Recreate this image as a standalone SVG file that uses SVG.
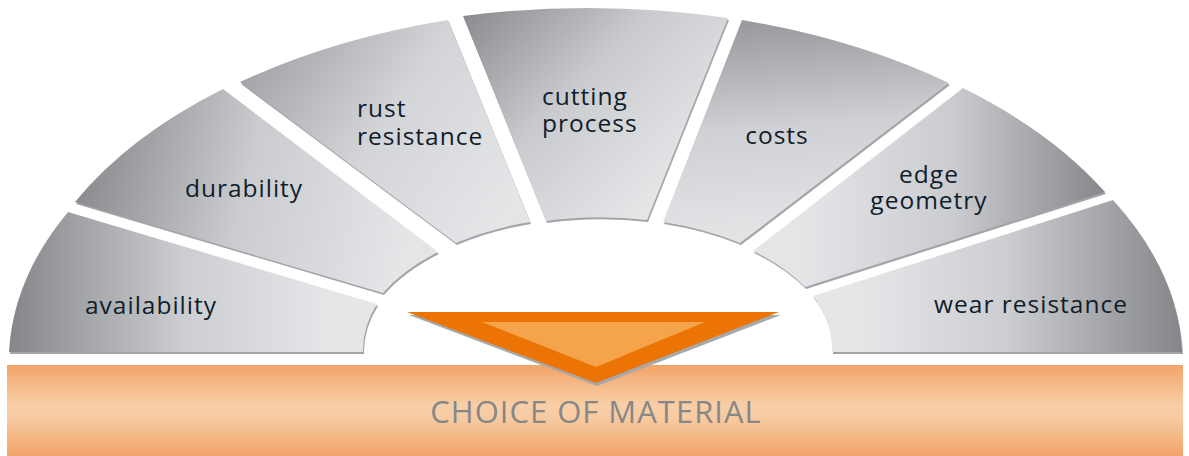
<svg xmlns="http://www.w3.org/2000/svg" width="1189" height="456" viewBox="0 0 1189 456">
<defs>
<style>
.lbl{font-family:"Open Sans","Liberation Sans",sans-serif;font-size:24.5px;letter-spacing:1px;fill:#0f1d2b}
.shadow{fill:#a3a4a8}
.title{font-family:"Open Sans","Liberation Sans",sans-serif;font-size:31px;letter-spacing:1px;fill:#878787}
</style>
<linearGradient id="g1" gradientUnits="userSpaceOnUse" x1="9" y1="0" x2="330" y2="0"><stop offset="0" stop-color="#85868a"/><stop offset="0.55" stop-color="#cdced1"/><stop offset="1" stop-color="#e5e6e8"/></linearGradient>
<linearGradient id="g2" gradientUnits="userSpaceOnUse" x1="75" y1="180" x2="400" y2="260"><stop offset="0" stop-color="#88898d"/><stop offset="0.5" stop-color="#cbccd0"/><stop offset="1" stop-color="#e4e5e7"/></linearGradient>
<linearGradient id="g3" gradientUnits="userSpaceOnUse" x1="250" y1="60" x2="490" y2="230"><stop offset="0" stop-color="#a2a3a7"/><stop offset="0.5" stop-color="#d4d5d8"/><stop offset="1" stop-color="#e4e5e7"/></linearGradient>
<linearGradient id="g4" gradientUnits="userSpaceOnUse" x1="463" y1="16" x2="650" y2="200"><stop offset="0" stop-color="#8b8c90"/><stop offset="0.5" stop-color="#cacbce"/><stop offset="1" stop-color="#e4e5e7"/></linearGradient>
<linearGradient id="g5" gradientUnits="userSpaceOnUse" x1="745" y1="25" x2="760" y2="230"><stop offset="0" stop-color="#9a9b9f"/><stop offset="0.5" stop-color="#cfd0d3"/><stop offset="1" stop-color="#e2e3e5"/></linearGradient>
<linearGradient id="g6" gradientUnits="userSpaceOnUse" x1="1105" y1="0" x2="800" y2="0"><stop offset="0" stop-color="#86878b"/><stop offset="0.5" stop-color="#cbccd0"/><stop offset="1" stop-color="#e4e5e7"/></linearGradient>
<linearGradient id="g7" gradientUnits="userSpaceOnUse" x1="1182" y1="0" x2="860" y2="0"><stop offset="0" stop-color="#85868a"/><stop offset="0.55" stop-color="#cdced1"/><stop offset="1" stop-color="#e5e6e8"/></linearGradient>
<linearGradient id="bar" x1="0" y1="0" x2="0" y2="1"><stop offset="0" stop-color="#f2a468"/><stop offset="0.45" stop-color="#f8cfa8"/><stop offset="0.6" stop-color="#f7c9a0"/><stop offset="1" stop-color="#f2a468"/></linearGradient>
</defs>
<rect width="1189" height="456" fill="#ffffff"/>

<g id="bar-choice">
<rect x="7" y="365" width="1176" height="91" fill="url(#bar)"/>
<text class="title" x="596" y="423" text-anchor="middle">CHOICE OF MATERIAL</text>
</g>

<g id="arrow">
<polygon points="409,315 781,315 597,386" fill="#a7a8aa"/>
<polygon points="407,312 779,312 596,383" fill="#ec7405"/>
<polygon points="482,322 705,322 596,367" fill="#f6a44b"/>
</g>

<g id="seg-availability">
<path class="shadow" transform="translate(1,2)" d="M 68 212 A 586 344 0 0 0 9 352 L 363 352 A 234 134 0 0 1 377 304 Z"/>
<path fill="url(#g1)" d="M 68 212 A 586 344 0 0 0 9 352 L 363 352 A 234 134 0 0 1 377 304 Z"/>
<text class="lbl" x="151" y="314" text-anchor="middle">availability</text>
</g>

<g id="seg-durability">
<path class="shadow" transform="translate(1,2)" d="M 75 202 A 586 344 0 0 1 223 89 L 438 252 A 234 134 0 0 0 383 293 Z"/>
<path fill="url(#g2)" d="M 75 202 A 586 344 0 0 1 223 89 L 438 252 A 234 134 0 0 0 383 293 Z"/>
<text class="lbl" x="244" y="197" text-anchor="middle">durability</text>
</g>

<g id="seg-rust">
<path class="shadow" transform="translate(1,2)" d="M 240 82 A 586 344 0 0 1 448 20 L 530 222 A 234 134 0 0 0 456 243 Z"/>
<path fill="url(#g3)" d="M 240 82 A 586 344 0 0 1 448 20 L 530 222 A 234 134 0 0 0 456 243 Z"/>
<text class="lbl" x="357" y="117">rust</text>
<text class="lbl" x="357" y="145">resistance</text>
</g>

<g id="seg-cutting">
<path class="shadow" transform="translate(1,2)" d="M 463 16 A 586 344 0 0 1 728 18 L 647 220 A 234 134 0 0 0 546 221 Z"/>
<path fill="url(#g4)" d="M 463 16 A 586 344 0 0 1 728 18 L 647 220 A 234 134 0 0 0 546 221 Z"/>
<text class="lbl" x="542" y="105">cutting</text>
<text class="lbl" x="542" y="132">process</text>
</g>

<g id="seg-costs">
<path class="shadow" transform="translate(1,2)" d="M 742 20 A 586 344 0 0 1 949 83 L 740 243 A 234 134 0 0 0 663 222 Z"/>
<path fill="url(#g5)" d="M 742 20 A 586 344 0 0 1 949 83 L 740 243 A 234 134 0 0 0 663 222 Z"/>
<text class="lbl" x="777" y="144" text-anchor="middle">costs</text>
</g>

<g id="seg-edge">
<path class="shadow" transform="translate(1,2)" d="M 963 88 A 586 344 0 0 1 1105 192 L 805 287 A 234 134 0 0 0 753 251 Z"/>
<path fill="url(#g6)" d="M 963 88 A 586 344 0 0 1 1105 192 L 805 287 A 234 134 0 0 0 753 251 Z"/>
<text class="lbl" x="929" y="183" text-anchor="middle">edge</text>
<text class="lbl" x="929" y="209" text-anchor="middle">geometry</text>
</g>

<g id="seg-wear">
<path class="shadow" transform="translate(1,2)" d="M 1113 200 A 586 344 0 0 1 1182 352 L 832 352 A 234 134 0 0 0 813 296 Z"/>
<path fill="url(#g7)" d="M 1113 200 A 586 344 0 0 1 1182 352 L 832 352 A 234 134 0 0 0 813 296 Z"/>
<text class="lbl" x="1031" y="313" text-anchor="middle">wear resistance</text>
</g>
</svg>
